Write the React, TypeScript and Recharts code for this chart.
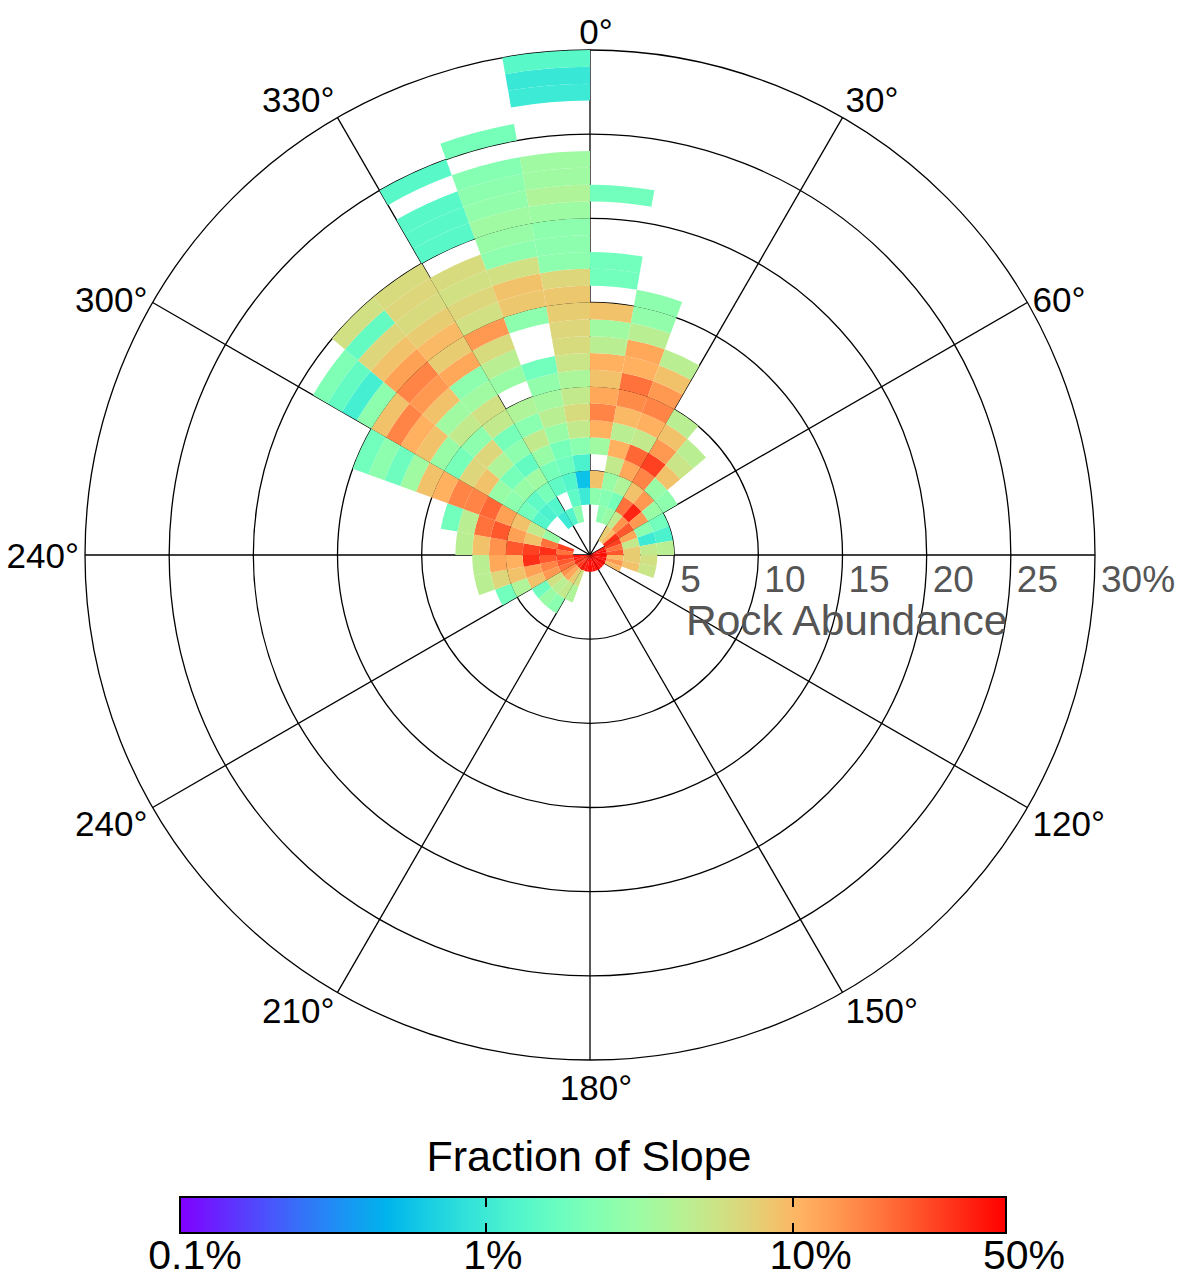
import React from 'react';
import {
  RadialBarChart,
  RadialBar,
  PolarAngleAxis,
  PolarRadiusAxis,
  PolarGrid,
  Cell,
} from 'recharts';

// ---- categories: 10° aspect sectors (start angle, clockwise from north) ----
const sectorStarts = [
  0, 10, 20, 30, 40, 50, 60, 70, 80, 90, 100, 110, 120, 130, 140, 150, 160, 170,
  180, 190, 200, 210, 220, 230, 240, 250, 260, 270, 280, 290, 300, 310, 320, 330, 340, 350,
];
// ---- rock abundance bins (lower edge, %), each 1% wide ----
const rockBinStarts = [
  0, 1, 2, 3, 4, 5, 6, 7, 8, 9, 10, 11, 12, 13, 14, 15, 16, 17, 18, 19,
  20, 21, 22, 23, 24, 25, 26, 27, 28, 29,
];
const ROCK_BIN_WIDTH = 1;

// ---- fraction of slope (%) per sector, indexed by rock abundance bin (0 = empty) ----
const s000 = [0, 0, 0, 2.6, 9, 0, 3.3, 11, 17, 12, 9, 11, 4.5, 3.3, 9, 0, 1.9, 1.9, 0, 0, 0, 1.9];
const s010 = [0, 0, 2.6, 2.4, 3, 5, 11, 4.5, 10, 16, 20, 11, 12, 4.5, 2.8, 2.6];
const s020 = [0, 0, 3, 2, 4, 12, 22, 5, 11, 17, 14, 9, 4.5];
const s030 = [0, 8, 5, 20, 9, 17, 30, 14, 9, 4.5];
const s040 = [0, 10, 15, 38, 14, 3, 9, 5.5, 4.5];
const s050 = [0, 35, 25, 14, 3, 2.6];
const s060 = [40, 30, 12, 2.5, 1.9];
const s070 = [45, 20, 5, 1.0, 1.2];
const s080 = [45, 25, 8, 5, 4.5];
const s090 = [45, 10, 8, 6];
const s100 = [45, 14, 9, 5.5];
const s110 = [45, 10];
const s120 = [45];
const s130 = [45];
const s140 = [45];
const s150 = [45];
const s160 = [45];
const s170 = [45];
const s180 = [45];
const s190 = [45];
const s200 = [40, 6, 4];
const s210 = [40, 8, 5, 2.5];
const s220 = [35, 12, 4.5, 3];
const s230 = [30, 15, 6, 1.8];
const s240 = [35, 20, 14, 9, 4, 1.9];
const s250 = [40, 25, 17, 13, 9, 7, 4.5];
const s260 = [45, 30, 25, 35, 11, 12, 4.5];
const s270 = [0, 20, 35, 30, 25, 15, 9, 4.5];
const s280 = [0, 30, 20, 9, 13, 25, 20, 4.5, 1.9];
const s290 = [0, 0, 3, 5, 9, 13, 22, 17, 17, 11, 9, 3.3, 1.8, 2.6, 1.9];
const s300 = [0, 0, 0, 1.3, 1.9, 2.6, 3, 9, 7, 2, 3, 9, 11, 17, 9, 2.6, 1.1, 1.6, 2.2];
const s310 = [0, 0, 0, 1.2, 1.5, 3, 2, 4, 7, 2.6, 5, 3.3, 9, 14, 17, 13, 9, 7, 1.6, 6];
const s320 = [0, 0, 1.0, 1.3, 2, 3.3, 1.6, 2.6, 2, 5, 6, 3.3, 2.6, 12, 8, 10, 8, 6.5, 7, 6.5];
const s330 = [0, 0, 1.3, 0, 1.5, 2, 3, 5, 2.5, 4, 0, 3, 4.5, 6.5, 14, 6, 7, 6, 6.5, 0, 1.4, 1.4, 1.4, 0, 1.4];
const s340 = [0, 0, 2.5, 1.5, 1.3, 1.8, 2, 3, 4.5, 3.5, 2.8, 1.9, 0, 0, 2.6, 8.5, 9, 6, 2.6, 3, 3.3, 2.8, 2.6, 2.4, 0, 2];
const s350 = [0, 0, 0, 1.0, 0.55, 1.2, 2.5, 5, 6.5, 5, 3.8, 5.5, 6.5, 7, 8, 8.5, 7, 2.6, 2.6, 2.6, 3.2, 4, 3.3, 3.3, 0, 0, 0, 1.0, 0.95, 1.4];

const sectorFractions = [
  s000, s010, s020, s030, s040, s050, s060, s070, s080, s090, s100, s110,
  s120, s130, s140, s150, s160, s170, s180, s190, s200, s210, s220, s230,
  s240, s250, s260, s270, s280, s290, s300, s310, s320, s330, s340, s350,
];

// ---- axes / labels ----
const spokeAngles = [0, 30, 60, 90, 120, 150, 180, 210, 240, 270, 300, 330];
const spokeLabels = ['0°', '30°', '60°', '', '120°', '150°', '180°', '210°', '240°', '240°', '300°', '330°'];
const ringTicks = [0, 5, 10, 15, 20, 25, 30];
const ringLabels = ['', '5', '10', '15', '20', '25', '30%'];
const colorbarTicks = [0.1, 1, 10, 50];
const colorbarLabels = ['0.1%', '1%', '10%', '50%'];
const colorbarLabelShift = [16, 7, 18, 17];
const FRAC_MIN = 0.1;
const FRAC_MAX = 50;

const FONT = '"Liberation Sans", Arial, Helvetica, sans-serif';
const CX = 590;
const CY = 555;
const OUTER_R = 505;

// rainbow colormap (purple -> blue -> cyan -> green -> yellow -> red)
function rainbow(t: number): string {
  const c = Math.max(0, Math.min(1, t));
  const r = Math.min(1, Math.abs(2 * c - 0.5));
  const g = Math.sin(Math.PI * c);
  const b = Math.cos((Math.PI * c) / 2);
  const h = (v: number) => Math.round(Math.max(0, Math.min(1, v)) * 255);
  return `rgb(${h(r)},${h(g)},${h(b)})`;
}
function fracToT(f: number): number {
  return (Math.log10(f) - Math.log10(FRAC_MIN)) / (Math.log10(FRAC_MAX) - Math.log10(FRAC_MIN));
}
function colorFor(f: number): string {
  return rainbow(fracToT(f));
}

const chartData = sectorStarts.map((deg) => {
  const row: Record<string, number | string> = { sector: deg };
  rockBinStarts.forEach((b) => {
    row[`b${b}`] = ROCK_BIN_WIDTH;
  });
  return row;
});

// compass labels: drawn by the sector axis at the sector edges that are multiples of 30°
const AngleTick = (props: any) => {
  const value = Number(props?.payload?.value);
  const idx = spokeAngles.indexOf(value);
  const label = idx >= 0 ? spokeLabels[idx] : '';
  if (!label) return null;
  const rad = (value * Math.PI) / 180;
  const ux = Math.sin(rad);
  const uy = -Math.cos(rad);
  const px = CX + OUTER_R * ux;
  const py = CY + OUTER_R * uy;
  const fs = 35;
  const cap = fs * 0.72;
  const g = 6;
  let tx = px + ux * g;
  let ty = py + uy * g;
  if (uy < -0.7) {
    // text sits above the point
  } else if (uy > 0.95) {
    ty += cap + 9;
  } else if (uy > 0.3) {
    ty += cap;
  } else {
    ty += cap / 2;
  }
  const anchor = ux > 0.3 ? 'start' : ux < -0.3 ? 'end' : 'middle';
  if (anchor === 'middle') tx += 6;
  return (
    <text x={tx} y={ty} textAnchor={anchor} fontSize={fs} fill="#000" fontFamily={FONT}>
      {label}
    </text>
  );
};

const RingTick = (props: any) => {
  const { x, y, payload } = props;
  const idx = ringTicks.indexOf(payload?.value);
  const label = idx >= 0 ? ringLabels[idx] : '';
  if (!label) return null;
  return (
    <text x={x + 6} y={y + 37} textAnchor="start" fontSize={37} fill="#555" fontFamily={FONT}>
      {label}
    </text>
  );
};

const CB_LEFT = 179;
const CB_WIDTH = 828;
const CB_TOP = 1196;
const CB_HEIGHT = 38;

const gradientStops = [0, 0.05, 0.1, 0.15, 0.2, 0.25, 0.3, 0.35, 0.4, 0.45, 0.5, 0.55, 0.6, 0.65, 0.7, 0.75, 0.8, 0.85, 0.9, 0.95, 1];

export default function App() {
  const gradient = `linear-gradient(to right, ${gradientStops
    .map((t) => `${rainbow(t)} ${(t * 100).toFixed(1)}%`)
    .join(', ')})`;

  return (
    <div
      style={{
        position: 'absolute',
        left: 0,
        top: 0,
        width: 1186,
        height: 1279,
        background: '#fff',
        fontFamily: FONT,
        overflow: 'hidden',
      }}
    >
      <div style={{ position: 'absolute', left: 0, top: 0 }}>
        <RadialBarChart
          width={1186}
          height={1110}
          data={chartData}
          cx={CX}
          cy={CY}
          innerRadius={0}
          outerRadius={OUTER_R}
          startAngle={80}
          endAngle={-280}
          layout="centric"
          barCategoryGap={0}
          barGap={0}
          margin={{ top: 0, right: 0, bottom: 0, left: 0 }}
        >
          <PolarAngleAxis
            angleAxisId={0}
            type="category"
            dataKey="sector"
            tick={<AngleTick />}
            axisLine={false}
            tickLine={false}
          />
          <PolarRadiusAxis
            radiusAxisId={0}
            type="number"
            domain={[0, 30]}
            ticks={ringTicks}
            allowDataOverflow
            angle={0}
            axisLine={false}
            tickLine={false}
            tick={<RingTick />}
          />
          {rockBinStarts.map((b) => (
            <RadialBar
              key={b}
              dataKey={`b${b}`}
              stackId="rock"
              angleAxisId={0}
              radiusAxisId={0}
              isAnimationActive={false}
            >
              {sectorFractions.map((arr, i) => {
                const f = arr[b] ?? 0;
                return <Cell key={i} fill={f > 0 ? colorFor(f) : 'transparent'} />;
              })}
            </RadialBar>
          ))}
          <PolarGrid
            gridType="circle"
            angleAxisId={0}
            radiusAxisId={0}
            polarAngles={spokeAngles.map((d) => 90 - d)}
            stroke="#000"
            strokeWidth={1.3}
            strokeOpacity={1}
          />
        </RadialBarChart>
      </div>

      <div
        style={{
          position: 'absolute',
          left: 686,
          top: 598,
          fontSize: 42.5,
          color: '#555',
          whiteSpace: 'nowrap',
          lineHeight: '46px',
        }}
      >
        Rock Abundance
      </div>

      <div
        style={{
          position: 'absolute',
          left: 0,
          width: 1178,
          top: 1132,
          textAlign: 'center',
          fontSize: 43,
          color: '#000',
          lineHeight: '48px',
        }}
      >
        Fraction of Slope
      </div>

      <div
        style={{
          position: 'absolute',
          left: CB_LEFT,
          top: CB_TOP,
          width: CB_WIDTH,
          height: CB_HEIGHT,
          boxSizing: 'border-box',
          border: '2px solid #000',
          background: gradient,
        }}
      />
      {colorbarTicks.slice(1, 3).map((v) => {
        const x = CB_LEFT + CB_WIDTH * fracToT(v);
        return (
          <React.Fragment key={v}>
            <div style={{ position: 'absolute', left: x - 1, top: CB_TOP, width: 2, height: 11, background: '#000' }} />
            <div style={{ position: 'absolute', left: x - 1, top: CB_TOP + CB_HEIGHT - 11, width: 2, height: 11, background: '#000' }} />
          </React.Fragment>
        );
      })}
      {colorbarTicks.map((v, i) => {
        const x = CB_LEFT + CB_WIDTH * fracToT(v) + colorbarLabelShift[i];
        return (
          <div
            key={v}
            style={{
              position: 'absolute',
              left: x - 100,
              width: 200,
              top: 1231,
              textAlign: 'center',
              fontSize: 41,
              color: '#000',
              lineHeight: '48px',
            }}
          >
            {colorbarLabels[i]}
          </div>
        );
      })}
    </div>
  );
}
